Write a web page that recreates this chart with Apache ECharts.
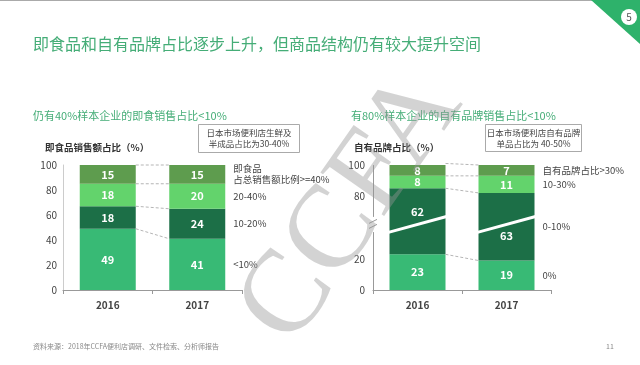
<!DOCTYPE html>
<html><head><meta charset="utf-8">
<script src="https://cdn.jsdelivr.net/npm/echarts@6/dist/echarts.min.js"></script>
<style>html,body{margin:0;padding:0;background:#fff}#c{width:640px;height:365px}</style>
</head><body><div id="c"></div>
<script>
// ---------- data ----------
const years = ['2016', '2017'];
// left chart: 即食品销售额占比
const leftNames = ['<10%', '10-20%', '20-40%', '即食品\n占总销售额比例>=40%'];
const leftLt10 = [49, 41];
const left10to20 = [18, 24];
const left20to40 = [18, 20];
const leftGe40 = [15, 15];
const leftTicks = [0, 20, 40, 60, 80, 100];
// right chart: 自有品牌占比
const rightNames = ['0%', '0-10%', '10-30%', '自有品牌占比>30%'];
const right0 = [23, 19];
const right0to10 = [62, 63];
const right10to30 = [8, 11];
const rightGt30 = [8, 7];
const rightTicks = [0, 20, 80, 100];
const rightBreak = [37, 67];

// ---------- style ----------
const FONT = '"Noto Sans CJK SC", "Noto Sans", sans-serif';
const BAR_W = 56;
const C_LOW = '#38ba75', C_DARK = '#1c6f47', C_LIGHT = '#63d36c', C_TOP = '#5e9c4e';
const GREEN_TXT = '#45ad77';

function cum(arrs) {
  // per segment: [x, top2016, top2017, bottom2017]
  const out = []; let s = [0, 0];
  arrs.forEach(a => { const b = s.slice(); s = [s[0] + a[0], s[1] + a[1]]; out.push([0, s[0], s[1], b[1]]); });
  return out;
}
const leftCum = cum([leftLt10, left10to20, left20to40, leftGe40]);
const rightCum = cum([right0, right0to10, right10to30, rightGt30]);

function barSeries(name, data, color, xi, labelOffsets) {
  return {
    type: 'bar', name, stack: 's' + xi, xAxisIndex: xi, yAxisIndex: xi, barWidth: BAR_W,
    itemStyle: { color },
    data: data.map((v, i) => labelOffsets ? { value: v, label: { offset: labelOffsets[i] } } : v),
    label: { show: true, position: 'inside', color: '#fff', fontSize: 11, fontWeight: 'bold', fontFamily: FONT },
    z: 2
  };
}
function connSeries(xi, data, names) {
  return {
    type: 'custom', xAxisIndex: xi, yAxisIndex: xi, z: 3, silent: true,
    encode: { x: 0, y: [1, 2, 3] },
    data: data,
    renderItem(params, api) {
      const half = BAR_W / 2;
      const p0 = api.coord([0, api.value(1)]);
      const p1 = api.coord([1, api.value(2)]);
      const pb = api.coord([1, api.value(3)]);
      return { type: 'group', children: [
        { type: 'line', shape: { x1: p0[0] + half, y1: p0[1], x2: p1[0] - half, y2: p1[1] },
          style: { stroke: '#b5b5b5', lineWidth: 1, lineDash: [3, 2] } },
        { type: 'text', x: p1[0] + half + 8, y: (p1[1] + pb[1]) / 2,
          style: { text: names[params.dataIndex], fill: '#444', fontSize: 9.5, fontFamily: FONT,
                   align: 'left', verticalAlign: 'middle', lineHeight: 11 } }
      ] };
    }
  };
}
const slashSeries = {
  type: 'custom', xAxisIndex: 1, yAxisIndex: 1, z: 4, silent: true,
  encode: { x: 0, y: [1, 2] },
  data: years.map((y, i) => [i, rightBreak[0], rightBreak[1]]),
  renderItem(params, api) {
    const half = BAR_W / 2;
    const i = api.value(0);
    const a = api.coord([i, api.value(1)]);
    const b = api.coord([i, api.value(2)]);
    const children = [
      { type: 'line', shape: { x1: a[0] - half - 2, y1: a[1], x2: a[0] + half + 2, y2: b[1] },
        style: { stroke: '#fff', lineWidth: 3 } }
    ];
    if (params.dataIndex === 0) {
      const ax = params.coordSys.x, my = (a[1] + b[1]) / 2;
      children.push({ type: 'rect', shape: { x: ax - 1, y: my - 4, width: 2, height: 8 }, style: { fill: '#fff' } });
      children.push({ type: 'line', shape: { x1: ax - 4, y1: my - 1, x2: ax + 4, y2: my - 5 }, style: { stroke: '#999', lineWidth: 1 } });
      children.push({ type: 'line', shape: { x1: ax - 4, y1: my + 4, x2: ax + 4, y2: my }, style: { stroke: '#999', lineWidth: 1 } });
    }
    return { type: 'group', children };
  }
};

const axisLabelStyle = { color: '#444', fontSize: 10, fontFamily: FONT };
const option = {
  animation: false,
  grid: [
    { left: 63, width: 179, top: 165, bottom: 75 },
    { left: 373, width: 178, top: 165, bottom: 75 }
  ],
  xAxis: [0, 1].map(i => ({
    type: 'category', gridIndex: i, data: years,
    axisLine: { lineStyle: { color: '#999' } },
    axisTick: { show: true, length: 4, lineStyle: { color: '#999' } },
    axisLabel: { color: '#444', fontSize: 10, fontWeight: 'bold', fontFamily: FONT, margin: 10 }
  })),
  yAxis: [
    { type: 'value', gridIndex: 0, min: 0, max: 100, interval: 20,
      axisLine: { show: true, lineStyle: { color: '#ccc' } }, axisTick: { show: false },
      splitLine: { show: false }, axisLabel: Object.assign({ margin: 6, customValues: leftTicks }, axisLabelStyle) },
    { type: 'value', gridIndex: 1, min: 0, max: 100,
      breaks: [{ start: rightBreak[0], end: rightBreak[1], gap: 10.6 }],
      breakArea: { show: false },
      axisLine: { show: true, lineStyle: { color: '#999' } }, axisTick: { show: false },
      splitLine: { show: false },
      axisLabel: Object.assign({ margin: 8, customValues: rightTicks }, axisLabelStyle) }
  ],
  series: [
    barSeries('<10%', leftLt10, C_LOW, 0),
    barSeries('10-20%', left10to20, C_DARK, 0),
    barSeries('20-40%', left20to40, C_LIGHT, 0),
    barSeries('>=40%', leftGe40, C_TOP, 0),
    connSeries(0, leftCum, leftNames),
    barSeries('0%', right0, C_LOW, 1),
    barSeries('0-10%', right0to10, C_DARK, 1, [[0, -9], [0, 9]]),
    barSeries('10-30%', right10to30, C_LIGHT, 1),
    barSeries('>30%', rightGt30, C_TOP, 1),
    connSeries(1, rightCum, rightNames),
    slashSeries
  ],
  graphic: [
    { type: 'line', shape: { x1: 0, y1: 0.5, x2: 640, y2: 0.5 }, style: { stroke: '#aaa', lineWidth: 1 } },
    { type: 'polygon', shape: { points: [[591, 0], [640, 0], [640, 44]] }, style: { fill: '#2eb26b' } },
    { type: 'circle', shape: { cx: 629, cy: 17, r: 8 }, style: { fill: '#fff' } },
    { type: 'text', x: 629, y: 17, style: { text: '5', fill: '#555', fontSize: 10, fontFamily: FONT, align: 'center', verticalAlign: 'middle' } },
    { type: 'text', x: 33, y: 44, style: { text: '即食品和自有品牌占比逐步上升，但商品结构仍有较大提升空间', fill: GREEN_TXT, fontSize: 16, fontFamily: FONT, verticalAlign: 'middle' } },
    { type: 'text', x: 33, y: 116, style: { text: '仍有40%样本企业的即食销售占比<10%', fill: GREEN_TXT, fontSize: 11, fontFamily: FONT, verticalAlign: 'middle' } },
    { type: 'text', x: 351, y: 116, style: { text: '有80%样本企业的自有品牌销售占比<10%', fill: GREEN_TXT, fontSize: 11, fontFamily: FONT, verticalAlign: 'middle' } },
    { type: 'text', x: 45, y: 147, style: { text: '即食品销售额占比（%）', fill: '#333', fontSize: 9.5, fontWeight: 'bold', fontFamily: FONT, verticalAlign: 'middle' } },
    { type: 'text', x: 354, y: 147, style: { text: '自有品牌占比（%）', fill: '#333', fontSize: 9.5, fontWeight: 'bold', fontFamily: FONT, verticalAlign: 'middle' } },
    { type: 'rect', shape: { x: 198.5, y: 124.5, width: 101, height: 28 }, style: { fill: '#fff', stroke: '#aaa', lineWidth: 1 } },
    { type: 'text', x: 249, y: 138.5, style: { text: '日本市场便利店生鲜及\n半成品占比为30-40%', fill: '#444', fontSize: 8.5, fontFamily: FONT, align: 'center', verticalAlign: 'middle', lineHeight: 11 } },
    { type: 'rect', shape: { x: 485.5, y: 124.5, width: 96, height: 27 }, style: { fill: '#fff', stroke: '#aaa', lineWidth: 1 } },
    { type: 'text', x: 533.5, y: 138, style: { text: '日本市场便利店自有品牌\n单品占比为 40-50%', fill: '#444', fontSize: 8.5, fontFamily: FONT, align: 'center', verticalAlign: 'middle', lineHeight: 11 } },
    { type: 'text', x: 33, y: 346, style: { text: '资料来源：2018年CCFA便利店调研、文件检索、分析师报告', fill: '#888', fontSize: 7, fontFamily: FONT, verticalAlign: 'middle' } },
    { type: 'text', x: 610, y: 346, style: { text: '11', fill: '#888', fontSize: 7, fontFamily: FONT, align: 'center', verticalAlign: 'middle' } },
    { type: 'text', x: 352, y: 208, rotation: 55 * Math.PI / 180, z: 100,
      style: { text: 'CCFA', fill: 'rgba(150,150,150,0.42)', fontSize: 118, fontFamily: '"Liberation Serif", serif', align: 'center', verticalAlign: 'middle' } }
  ]
};
const chart = echarts.init(document.getElementById('c'), null, { renderer: 'canvas' });
chart.setOption(option);
</script>
</body></html>
